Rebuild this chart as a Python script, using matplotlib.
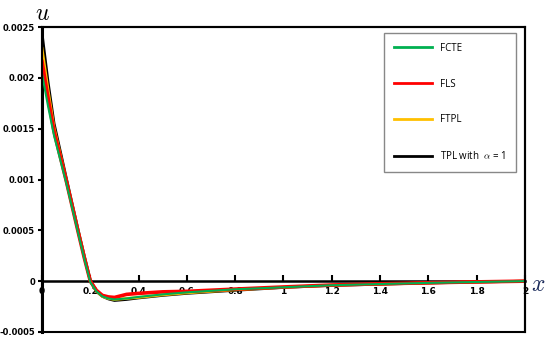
import matplotlib
matplotlib.use("Agg")
import matplotlib.pyplot as plt
from matplotlib.patches import Rectangle

plt.rcParams['mathtext.fontset'] = 'cm'

# datos
x = [0, 0.025, 0.05, 0.1, 0.15, 0.175, 0.2, 0.225, 0.25, 0.275, 0.3, 0.35, 0.4, 0.5, 0.6, 0.8,
     1.0, 1.2, 1.4, 1.6, 1.8, 2.0]
fcte = [0.00204, 0.00172, 0.00143, 0.00097, 0.00047, 0.00022, -0.00001, -0.00010, -0.00015, -0.00017,
        -0.00018, -0.00017, -0.000155, -0.00013, -0.00011, -0.00008, -0.00006, -0.00004, -0.000028,
        -0.000017, -0.000008, 0]
fls = [0.00216, 0.00180, 0.00147, 0.00099, 0.00048, 0.00023, 0.0, -0.00009, -0.00014, -0.000155,
       -0.00016, -0.00013, -0.00012, -0.000105, -0.0001, -0.000078, -0.000057, -0.000038, -0.000026,
       -0.000016, -0.000007, 0]
ftpl = [0.00229, 0.00188, 0.00151, 0.001, 0.00049, 0.00024, 0.0, -0.0001, -0.00015, -0.00017,
        -0.00018, -0.00017, -0.00016, -0.000135, -0.000115, -0.000085, -0.00006, -0.00004, -0.000028,
        -0.000017, -0.000008, 0]
tpl = [0.00244, 0.00196, 0.00155, 0.00102, 0.0005, 0.00025, 0.00001, -0.0001, -0.00015, -0.000175,
       -0.00019, -0.00018, -0.000165, -0.00014, -0.00012, -0.00009, -0.000062, -0.000042, -0.00003,
       -0.000018, -0.000009, 0]

xticks = [0, 0.2, 0.4, 0.6, 0.8, 1, 1.2, 1.4, 1.6, 1.8, 2]
xticklabels = ['0', '0.2', '0.4', '0.6', '0.8', '1', '1.2', '1.4', '1.6', '1.8', '2']
yticks = [-0.0005, 0, 0.0005, 0.001, 0.0015, 0.002, 0.0025]
yticklabels = ['-0.0005', '0', '0.0005', '0.001', '0.0015', '0.002', '0.0025']

fig = plt.figure(figsize=(5.5, 3.41), dpi=100)
ax = fig.add_axes([0.0764, 0.0264, 0.8781, 0.8944])

ax.plot(x, tpl, color='black', lw=2, label=r'TPL with  $\alpha$ = 1', zorder=3)
ax.plot(x, ftpl, color='#ffc000', lw=2, label='FTPL', zorder=4)
ax.plot(x, fls, color='#ff0000', lw=2.6, label='FLS', zorder=5)
ax.plot(x, fcte, color='#00b050', lw=1.5, label='FCTE', zorder=6)

ax.set_xlim(0, 2)
ax.set_ylim(-0.0005, 0.0025)

# eje x en y = 0
ax.spines['bottom'].set_position(('data', 0))
ax.spines['bottom'].set_linewidth(1.8)
ax.spines['left'].set_linewidth(2.2)
ax.spines['top'].set_linewidth(1.5)
ax.spines['right'].set_linewidth(1.5)
ax.add_patch(Rectangle((0, 0), 1, 1, transform=ax.transAxes, fill=False,
                       lw=1.5, edgecolor='black', clip_on=False, zorder=10))

ax.set_xticks(xticks)
ax.set_xticklabels(xticklabels, fontsize=6.5, fontweight='bold')
ax.set_yticks(yticks)
ax.set_yticklabels(yticklabels, fontsize=6, fontweight='bold')
ax.tick_params(axis='x', direction='in', length=4, width=1.5, pad=4)
ax.tick_params(axis='y', direction='out', length=3, width=1.5, pad=2)

fig.text(0.078, 0.962, r'$u$', fontsize=17, ha='center', va='center')
fig.text(0.978, 0.168, r'$x$', fontsize=17, ha='center', va='center', color='#1a2a5a')

handles, labels = ax.get_legend_handles_labels()
order = [3, 2, 1, 0]
leg = ax.legend([handles[i] for i in order], [labels[i] for i in order],
                loc='upper left', bbox_to_anchor=(0.708, 0.98), borderaxespad=0,
                prop={'family': 'Open Sans', 'size': 7},
                labelspacing=2.55, handlelength=3.9, handletextpad=0.9,
                borderpad=1.0, fancybox=False, edgecolor='#888888', framealpha=1)
leg.get_frame().set_linewidth(1.0)
for line in leg.get_lines():
    line.set_linewidth(2)

fig.savefig('out.png', dpi=100)
